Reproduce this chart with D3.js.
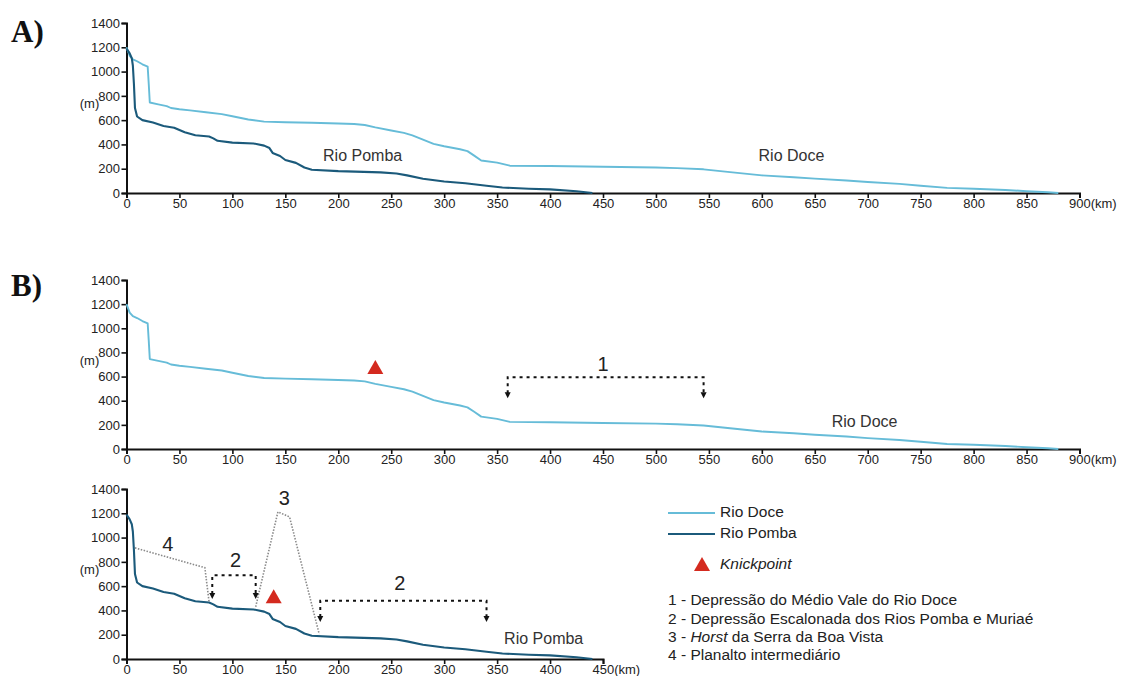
<!DOCTYPE html>
<html>
<head>
<meta charset="utf-8">
<script src="https://cdn.jsdelivr.net/npm/d3@7/dist/d3.min.js"></script>
<style>
  html, body { margin: 0; padding: 0; background: #fff; }
  svg { display: block; }
</style>
</head>
<body>
<svg id="chart" width="1126" height="676"></svg>
<script>
// ---------------- DATA ----------------
const doceKm   = [0, 3, 6, 10, 15, 20, 21, 22, 30, 38, 42, 50, 60, 75, 90, 100, 115, 130, 150, 175, 200, 215, 225, 235, 250, 262, 270, 280, 290, 300, 315, 322, 328, 335, 350, 362, 400, 450, 500, 520, 545, 570, 600, 630, 650, 680, 700, 730, 750, 775, 800, 830, 850, 870, 880];
const doceElev = [1200, 1130, 1100, 1085, 1060, 1040, 900, 745, 730, 715, 700, 690, 680, 665, 650, 632, 605, 588, 583, 578, 572, 568, 560, 540, 515, 495, 475, 440, 405, 385, 360, 345, 310, 268, 250, 225, 222, 216, 210, 205, 195, 172, 145, 130, 118, 103, 90, 75, 60, 42, 35, 25, 15, 6, 0];

const pombaKm   = [0, 3, 5, 6, 7, 8, 10, 15, 25, 35, 45, 55, 65, 78, 82, 86, 100, 120, 130, 135, 138, 145, 150, 160, 168, 175, 200, 240, 255, 265, 280, 300, 320, 340, 355, 380, 400, 425, 440];
const pombaElev = [1190, 1150, 1110, 1050, 900, 700, 630, 600, 580, 552, 538, 500, 475, 465, 450, 430, 415, 408, 390, 370, 330, 305, 272, 248, 210, 192, 180, 170, 160, 145, 118, 95, 80, 60, 45, 35, 30, 15, 0];

const yTicks      = [0, 200, 400, 600, 800, 1000, 1200, 1400];
const xTicksLong  = [0, 50, 100, 150, 200, 250, 300, 350, 400, 450, 500, 550, 600, 650, 700, 750, 800, 850, 900];
const xTicksShort = [0, 50, 100, 150, 200, 250, 300, 350, 400, 450];

// annotation data (km, m)
const knickUpper = [235, 672];
const knickLower = [139, 508];
const bracket1   = {x1: 360, x2: 545, yTop: 595, yTip: 420, label: "1", lx: 450, ly: 690};
const bracket2a  = {x1: 81, x2: 122, yTop: 690, yTip: 495, label: "2", lx: 103, ly: 805};
const bracket2b  = {x1: 183, x2: 340, yTop: 480, yTip: 305, label: "2", lx: 258, ly: 610};
const path4      = [[8, 915], [74, 752], [78, 470]];
const path3      = [[122, 430], [143, 1212], [154, 1170], [182, 205]];
const label4     = [39, 930];
const label3     = [149, 1315];

const legendItems = ["1 - Depressão do Médio Vale do Rio Doce",
                     "2 - Depressão Escalonada dos Rios Pomba e Muriaé",
                     "3 - ", "4 - Planalto intermediário"];

// ---------------- STYLE ----------------
const DOCE = "#66bcd8";
const POMBA = "#1b5a7b";
const RED = "#d42a1f";
const SANS = "'Liberation Sans', Arial, Helvetica, sans-serif";
const SERIF = "'Liberation Serif', 'Times New Roman', serif";

const svg = d3.select("#chart");
const doce = doceKm.map((k, i) => [k, doceElev[i]]);
const pomba = pombaKm.map((k, i) => [k, pombaElev[i]]);

function txt(g, x, y, s, size) {
  return g.append("text").attr("x", x).attr("y", y).style("font-family", SANS)
    .attr("font-size", size).attr("fill", "#222").text(s);
}

function makePanel(cfg) {
  const x = d3.scaleLinear().domain([0, cfg.xmax]).range([126.5, cfg.xRight]);
  const y = d3.scaleLinear().domain([0, 1400]).range([cfg.bottom, cfg.top]);
  const g = svg.append("g");

  const ya = g.append("g").attr("transform", `translate(${x(0)},0)`)
    .call(d3.axisLeft(y).tickValues(yTicks).tickSize(5).tickPadding(1.5).tickFormat(d3.format("d")));
  const xa = g.append("g").attr("transform", `translate(0,${y(0)})`)
    .call(d3.axisBottom(x).tickValues(cfg.xTicks).tickSize(5).tickPadding(1).tickFormat(d3.format("d")));
  [ya, xa].forEach(a => {
    a.select(".domain").attr("stroke", "#111").attr("stroke-width", 2);
    a.selectAll(".tick line").attr("stroke", "#111").attr("stroke-width", 1.6);
    a.selectAll(".tick text").attr("fill", "#222").attr("font-size", 13).style("font-family", SANS);
  });
  const lastTick = xa.selectAll(".tick text").filter(d => d === cfg.xmax);
  lastTick.attr("text-anchor", "start").attr("dx", -11).text(cfg.xmax + "(km)");

  txt(g, x(0) - 37, y(700), "(m)", 13).attr("text-anchor", "middle");

  const line = d3.line().x(d => x(d[0])).y(d => y(d[1]));
  if (cfg.doce) g.append("path").datum(doce).attr("d", line).attr("fill", "none")
    .attr("stroke", DOCE).attr("stroke-width", 1.9).attr("stroke-linejoin", "round");
  if (cfg.pomba) g.append("path").datum(pomba).attr("d", line).attr("fill", "none")
    .attr("stroke", POMBA).attr("stroke-width", 2.1).attr("stroke-linejoin", "round");
  return {g, x, y};
}

function riverLabel(p, s, km, m) {
  txt(p.g, p.x(km), p.y(m), s, 16).attr("text-anchor", "middle").attr("dominant-baseline", "middle").attr("fill", "#333");
}

function knick(p, pt) {
  const cx = p.x(pt[0]), cy = p.y(pt[1]);
  p.g.append("path").attr("d", `M${cx},${cy - 8} L${cx + 8},${cy + 6} L${cx - 8},${cy + 6} Z`).attr("fill", RED);
}

function arrowDown(g, px, py) {
  g.append("path").attr("d", `M${px - 3},${py - 6} L${px + 3},${py - 6} L${px},${py} Z`).attr("fill", "#111");
}

function numLabel(p, s, km, m) {
  txt(p.g, p.x(km), p.y(m), s, 20).attr("text-anchor", "middle").attr("dominant-baseline", "middle");
}

function bracket(p, b) {
  const x1 = p.x(b.x1), x2 = p.x(b.x2), yt = p.y(b.yTop), yb = p.y(b.yTip);
  p.g.append("path").attr("d", `M${x1},${yb - 5} L${x1},${yt} L${x2},${yt} L${x2},${yb - 5}`)
    .attr("fill", "none").attr("stroke", "#111").attr("stroke-width", 2).attr("stroke-dasharray", "3,4");
  arrowDown(p.g, x1, yb);
  arrowDown(p.g, x2, yb);
  numLabel(p, b.label, b.lx, b.ly);
}

function greyPath(p, pts) {
  p.g.append("path").datum(pts).attr("d", d3.line().x(d => p.x(d[0])).y(d => p.y(d[1])))
    .attr("fill", "none").attr("stroke", "#8a8a8a").attr("stroke-width", 1.6).attr("stroke-dasharray", "1.5,1.5");
}

// ---------------- PANELS ----------------
const pA = makePanel({xmax: 900, xRight: 1079.5, top: 23, bottom: 193, xTicks: xTicksLong, doce: true, pomba: true});
riverLabel(pA, "Rio Pomba", 223, 300);
riverLabel(pA, "Rio Doce", 628, 300);

const pB = makePanel({xmax: 900, xRight: 1079.5, top: 280, bottom: 449, xTicks: xTicksLong, doce: true, pomba: false});
riverLabel(pB, "Rio Doce", 697, 220);
knick(pB, knickUpper);
bracket(pB, bracket1);

const pC = makePanel({xmax: 450, xRight: 603, top: 489, bottom: 659, xTicks: xTicksShort, doce: false, pomba: true});
greyPath(pC, path4);
greyPath(pC, path3);
bracket(pC, bracket2a);
bracket(pC, bracket2b);
knick(pC, knickLower);
numLabel(pC, "4", label4[0], label4[1]);
numLabel(pC, "3", label3[0], label3[1]);
riverLabel(pC, "Rio Pomba", 394, 160);

// panel letters
svg.append("text").attr("x", 11).attr("y", 42).style("font-family", SERIF)
  .attr("font-weight", "bold").attr("font-size", 31).attr("fill", "#111").text("A)");
svg.append("text").attr("x", 11).attr("y", 296).style("font-family", SERIF)
  .attr("font-weight", "bold").attr("font-size", 31).attr("fill", "#111").text("B)");

// ---------------- LEGEND ----------------
const lg = svg.append("g");
const lx0 = 668, ltx = 720, LF = 15.5;
lg.append("line").attr("x1", lx0).attr("x2", lx0 + 47).attr("y1", 513).attr("y2", 513).attr("stroke", DOCE).attr("stroke-width", 2);
txt(lg, ltx, 513, "Rio Doce", LF).attr("dominant-baseline", "middle");
lg.append("line").attr("x1", lx0).attr("x2", lx0 + 47).attr("y1", 534).attr("y2", 534).attr("stroke", POMBA).attr("stroke-width", 2.2);
txt(lg, ltx, 534, "Rio Pomba", LF).attr("dominant-baseline", "middle");
lg.append("path").attr("d", `M702,557 L710,571 L694,571 Z`).attr("fill", RED);
txt(lg, ltx, 565, "Knickpoint", LF).attr("dominant-baseline", "middle").attr("font-style", "italic");

const itemY = [601, 620, 638, 656];
legendItems.forEach((t, i) => {
  const tx = lg.append("text").attr("x", lx0).attr("y", itemY[i]).attr("dominant-baseline", "middle")
    .style("font-family", SANS).attr("font-size", LF).attr("fill", "#222");
  if (i === 2) {
    tx.append("tspan").text(t);
    tx.append("tspan").attr("font-style", "italic").text("Horst");
    tx.append("tspan").text(" da Serra da Boa Vista");
  } else {
    tx.text(t);
  }
});
</script>
</body>
</html>
